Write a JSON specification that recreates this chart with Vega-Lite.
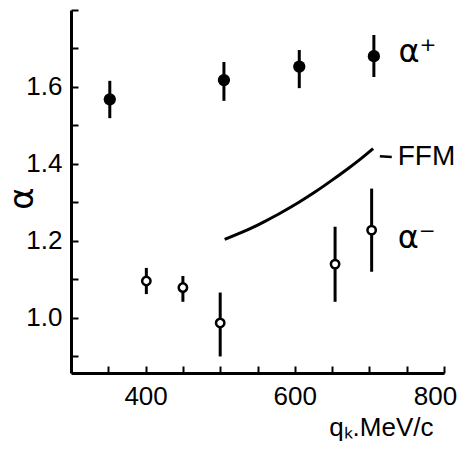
{
  "$schema": "https://vega.github.io/schema/vega-lite/v6.json",
  "width": 373,
  "height": 363,
  "autosize": "none",
  "padding": {"left": 71, "top": 10, "right": 17, "bottom": 76},
  "background": "white",
  "config": {
    "view": {"stroke": null},
    "font": "Liberation Sans",
    "axis": {
      "grid": false,
      "domainColor": "black",
      "domainWidth": 3,
      "tickColor": "black",
      "tickWidth": 2,
      "labelFont": "Liberation Sans",
      "labelFontSize": 26,
      "labelColor": "black",
      "labelOverlap": false,
      "labelFlush": false,
      "labelBound": false,
      "titleFont": "Liberation Sans",
      "titleFontWeight": "normal",
      "titleColor": "black"
    }
  },
  "datasets": {
    "pts": [
      {"series": "plus", "q": 352, "a": 1.568, "lo": 1.519, "hi": 1.616},
      {"series": "plus", "q": 505, "a": 1.618, "lo": 1.564, "hi": 1.665},
      {"series": "plus", "q": 606, "a": 1.653, "lo": 1.597, "hi": 1.696},
      {"series": "plus", "q": 706, "a": 1.68, "lo": 1.626, "hi": 1.735},
      {"series": "minus", "q": 401, "a": 1.096, "lo": 1.062, "hi": 1.13},
      {"series": "minus", "q": 450, "a": 1.079, "lo": 1.042, "hi": 1.109},
      {"series": "minus", "q": 500, "a": 0.987, "lo": 0.9, "hi": 1.066},
      {"series": "minus", "q": 654, "a": 1.14, "lo": 1.042, "hi": 1.237},
      {"series": "minus", "q": 703, "a": 1.228, "lo": 1.12, "hi": 1.336}
    ],
    "ffm": [
      {"q": 506, "a": 1.204},
      {"q": 538, "a": 1.23},
      {"q": 560, "a": 1.251},
      {"q": 582, "a": 1.274},
      {"q": 605, "a": 1.3},
      {"q": 627, "a": 1.327},
      {"q": 650, "a": 1.358},
      {"q": 672, "a": 1.389},
      {"q": 690, "a": 1.416},
      {"q": 705, "a": 1.44}
    ],
    "dash": [
      {"q": 714, "q2": 730, "a": 1.42, "a2": 1.418}
    ],
    "alabels": [
      {"q": 739, "a": 1.664, "label": "α⁺"},
      {"q": 738, "a": 1.182, "label": "α⁻"}
    ],
    "flabel": [
      {"q": 738, "a": 1.397, "label": "FFM"}
    ]
  },
  "layer": [
    {
      "encoding": {
        "x": {
          "field": "q", "type": "quantitative",
          "scale": {"domain": [300, 800], "nice": false, "zero": false},
          "axis": {
            "orient": "bottom",
            "values": [400, 600, 800],
            "ticks": false,
            "tickSize": 0,
            "labelPadding": 10,
            "labelOffset": {"condition": {"test": "datum.value == 800", "value": -9}, "value": 0},
            "title": "qₖ.MeV/c",
            "titleFontSize": 26,
            "titleAlign": "right",
            "titleAnchor": null,
            "titleBaseline": "alphabetic",
            "titleX": 362,
            "titleY": 62
          }
        },
        "y": {
          "field": "a", "type": "quantitative",
          "scale": {"domain": [0.857, 1.8], "nice": false, "zero": false},
          "axis": {
            "orient": "left",
            "values": [1.0, 1.2, 1.4, 1.6],
            "format": ".1f",
            "ticks": false,
            "tickSize": 0,
            "labelPadding": 9,
            "title": "α",
            "titleFont": "DejaVu Sans",
            "titleFontSize": 34,
            "titleAngle": -90,
            "titleAlign": "center",
            "titleBaseline": "middle",
            "titleX": -49,
            "titleY": 188
          }
        }
      },
      "layer": [
        {
          "data": {"name": "pts"},
          "mark": {"type": "rule", "strokeWidth": 3, "color": "black"},
          "encoding": {"y": {"field": "lo", "type": "quantitative"}, "y2": {"field": "hi"}}
        },
        {
          "data": {"name": "pts"},
          "transform": [{"filter": "datum.series == 'plus'"}],
          "mark": {"type": "point", "shape": "circle", "filled": true, "color": "black", "size": 150, "opacity": 1}
        },
        {
          "data": {"name": "pts"},
          "transform": [{"filter": "datum.series == 'minus'"}],
          "mark": {"type": "point", "shape": "circle", "filled": false, "fill": "white", "fillOpacity": 1, "stroke": "black", "strokeWidth": 2.5, "size": 70, "opacity": 1}
        },
        {
          "data": {"name": "dash"},
          "mark": {"type": "rule", "color": "black", "strokeWidth": 2.5},
          "encoding": {"x2": {"field": "q2"}, "y2": {"field": "a2"}}
        },
        {
          "data": {"name": "alabels"},
          "mark": {"type": "text", "align": "left", "baseline": "alphabetic", "fontSize": 32, "color": "black", "font": "DejaVu Sans"},
          "encoding": {"text": {"field": "label"}}
        },
        {
          "data": {"name": "flabel"},
          "mark": {"type": "text", "align": "left", "baseline": "alphabetic", "fontSize": 28, "color": "black", "font": "Liberation Sans"},
          "encoding": {"text": {"field": "label"}}
        }
      ]
    },
    {
      "data": {"name": "ffm"},
      "mark": {"type": "line", "color": "black", "strokeWidth": 3, "interpolate": "natural"},
      "encoding": {
        "x": {
          "field": "q", "type": "quantitative",
          "scale": {"domain": [300, 800], "nice": false, "zero": false},
          "axis": {
            "orient": "bottom",
            "offset": -7,
            "domain": false,
            "labels": false,
            "title": null,
            "ticks": true,
            "tickSize": 7,
            "values": [350, 400, 450, 500, 550, 600, 650, 700, 750, 800]
          }
        },
        "y": {
          "field": "a", "type": "quantitative",
          "scale": {"domain": [0.857, 1.8], "nice": false, "zero": false},
          "axis": {
            "orient": "left",
            "offset": -7,
            "domain": false,
            "labels": false,
            "title": null,
            "ticks": true,
            "tickSize": 7,
            "values": [0.9, 1.0, 1.1, 1.2, 1.3, 1.4, 1.5, 1.6, 1.7, 1.8]
          }
        }
      }
    }
  ],
  "resolve": {"axis": {"x": "independent", "y": "independent"}}
}
